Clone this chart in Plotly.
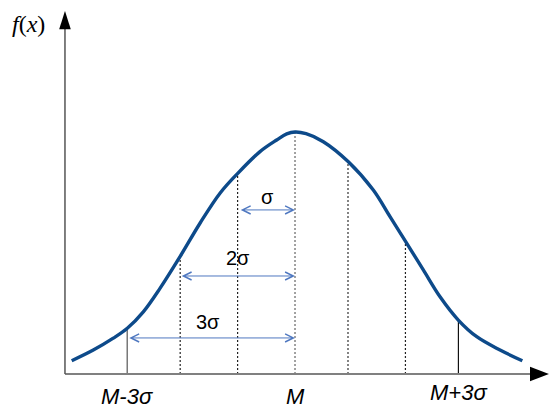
import plotly.graph_objects as go

# Curve (x in sigma units from M, y relative to the peak height)
curve_x = [-4.045, -3.654, -3.292, -3.038, -2.748, -2.446, -2.083, -1.721, -1.359, -1.038,
           -0.634, -0.332, -0.15, 0.0, 0.2, 0.513, 0.966, 1.418, 1.721, 2.005, 2.324, 2.627,
           2.958, 3.292, 3.714, 4.118]
curve_y = [0.055, 0.099, 0.148, 0.189, 0.257, 0.354, 0.485, 0.623, 0.747, 0.829,
           0.919, 0.967, 0.992, 1.0, 0.993, 0.960, 0.877, 0.760, 0.650, 0.547, 0.430, 0.319,
           0.223, 0.154, 0.099, 0.055]

# Vertical marker lines (position, height, style)
mark_x = [-3.04, -2.08, -1.04, 0.0, 0.96, 2.0, 2.96]
mark_h = [0.189, 0.485, 0.829, 1.0, 0.877, 0.547, 0.223]
mark_dash = ["solid", "2px,2px", "2px,2px", "2px,2px", "2px,2px", "2px,2px", "solid"]
mark_color = ["#555555", "#222222", "#222222", "#666666", "#333333", "#222222", "#111111"]

# Sigma-span arrows
span_start = [-1.01, -2.08, -3.03]
span_end = [0.0, 0.0, 0.0]
span_y = [0.678, 0.405, 0.149]
span_labels = ["σ", "2σ", "3σ"]
span_label_x = [-0.49, -1.03, -1.57]
span_label_y = [0.73, 0.48, 0.215]

# Axis tick labels
tick_x = [-3.04, 0.0, 2.96]
tick_y = [-0.092, -0.092, -0.078]
tick_labels = ["M-3σ", "M", "M+3σ"]

# Axis geometry (data units)
x_origin = -4.167
x_end = 4.60
y_top = 1.50

fig = go.Figure()

shapes = []
for xv, hv, d, c in zip(mark_x, mark_h, mark_dash, mark_color):
    shapes.append(dict(type="line", x0=xv, x1=xv, y0=0, y1=hv, xref="x", yref="y",
                       line=dict(color=c, width=1.2, dash=d), layer="below"))

# axes lines
shapes.append(dict(type="line", x0=x_origin, x1=4.27, y0=0, y1=0,
                   line=dict(color="#808080", width=2)))
shapes.append(dict(type="line", x0=x_origin, x1=x_origin, y0=0, y1=1.43,
                   line=dict(color="#555555", width=1.5)))
# arrowheads
shapes.append(dict(type="path",
                   path=f"M {x_end} 0 L 4.257 0.03 L 4.257 -0.03 Z",
                   fillcolor="black", line=dict(color="black", width=0)))
shapes.append(dict(type="path",
                   path=f"M {x_origin} {y_top} L {x_origin - 0.105} 1.425 L {x_origin + 0.105} 1.425 Z",
                   fillcolor="black", line=dict(color="black", width=0)))

fig.add_trace(go.Scatter(x=curve_x, y=curve_y, mode="lines",
                         line=dict(color="#0d4a8a", width=3.4, shape="spline", smoothing=1.0),
                         hoverinfo="skip"))

annotations = []
for s, e, yv in zip(span_start, span_end, span_y):
    annotations.append(dict(x=e, y=yv, ax=s, ay=yv, xref="x", yref="y", axref="x", ayref="y",
                            text="", showarrow=True, arrowside="end+start",
                            arrowhead=5, startarrowhead=5, arrowsize=1.6, startarrowsize=1.6,
                            arrowwidth=1, arrowcolor="#4f78c0", standoff=0, startstandoff=0))
for t, xv, yv in zip(span_labels, span_label_x, span_label_y):
    annotations.append(dict(x=xv, y=yv, xref="x", yref="y", text=t, showarrow=False,
                            font=dict(family="Liberation Sans, Arial", size=20, color="black")))
for t, xv, yv in zip(tick_labels, tick_x, tick_y):
    annotations.append(dict(x=xv, y=yv, xref="x", yref="y", text=f"<i>{t}</i>", showarrow=False,
                            font=dict(family="Liberation Sans, Arial", size=22, color="black")))
annotations.append(dict(x=-4.82, y=1.446, xref="x", yref="y", text="<i>f</i>(<i>x</i>)",
                        showarrow=False,
                        font=dict(family="Liberation Serif, Times New Roman", size=24, color="black")))

fig.update_layout(
    width=549, height=411,
    margin=dict(l=0, r=0, t=0, b=0),
    paper_bgcolor="white", plot_bgcolor="white",
    showlegend=False,
    xaxis=dict(range=[-5.344, 4.601], visible=False, fixedrange=True),
    yaxis=dict(range=[-0.1529, 1.5455], visible=False, fixedrange=True),
    shapes=shapes,
    annotations=annotations,
)

fig.write_html("out.html")
